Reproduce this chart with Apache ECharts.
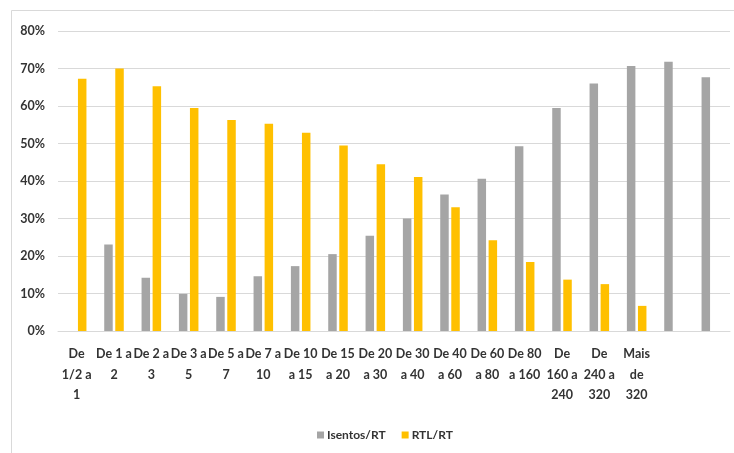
<!DOCTYPE html>
<html>
<head>
<meta charset="utf-8">
<script src="https://cdn.jsdelivr.net/npm/echarts@6/dist/echarts.min.js"></script>
<style>
  html, body { margin: 0; padding: 0; background: #ffffff; }
  #chart { width: 734px; height: 453px; }
</style>
</head>
<body>
<div id="chart"></div>
<script>
// Income brackets (in minimum wages); the last two columns have no label
const categories = [
  'De\n1/2 a\n1', 'De 1 a\n2', 'De 2 a\n3', 'De 3 a\n5', 'De 5 a\n7', 'De 7 a\n10',
  'De 10\na 15', 'De 15\na 20', 'De 20\na 30', 'De 30\na 40', 'De 40\na 60', 'De 60\na 80',
  'De 80\na 160', 'De\n160 a\n240', 'De\n240 a\n320', 'Mais\nde\n320', '', ''
];

// Share of exempt income over total income (%)
const isentos = [null, 23.1, 14.2, 9.9, 9.1, 14.6, 17.3, 20.5, 25.4, 30.0, 36.4, 40.6, 49.3, 59.5, 66.0, 70.7, 71.8, 67.7];

// Share of taxable income over total income (%)
const rtl = [67.3, 70.0, 65.3, 59.5, 56.3, 55.3, 52.9, 49.5, 44.5, 41.1, 33.0, 24.2, 18.4, 13.7, 12.5, 6.7, null, null];

const yTicks = { min: 0, max: 80, interval: 10 };

const textFont = 'Lato';
const textColor = '#333333';

const chart = echarts.init(document.getElementById('chart'), null, { renderer: 'canvas' });

chart.setOption({
  animation: false,
  backgroundColor: '#ffffff',
  graphic: [{
    type: 'rect',
    shape: { x: 11.5, y: 10.5, width: 740, height: 460 },
    style: { fill: 'none', stroke: '#d9d9d9', lineWidth: 1 },
    silent: true
  }],
  grid: { left: 58, right: 4, top: 31, bottom: 122 },
  legend: {
    left: 312,
    top: 424,
    itemWidth: 7,
    itemHeight: 7,
    itemGap: 16,
    icon: 'rect',
    textStyle: { fontFamily: textFont, fontWeight: 'bold', fontSize: 12, color: textColor, padding: [0, 0, 0, -2] },
    data: ['Isentos/RT', 'RTL/RT']
  },
  xAxis: {
    type: 'category',
    data: categories,
    axisLine: { show: true, lineStyle: { color: '#d9d9d9', width: 1 } },
    axisTick: { show: false },
    axisLabel: {
      interval: 0,
      margin: 13,
      fontFamily: textFont,
      fontWeight: 'bold',
      fontSize: 12.5,
      lineHeight: 20.5,
      color: textColor,
      align: 'center',
      verticalAlign: 'top'
    }
  },
  yAxis: {
    type: 'value',
    min: yTicks.min,
    max: yTicks.max,
    interval: yTicks.interval,
    axisLine: { show: false },
    axisTick: { show: false },
    splitLine: { lineStyle: { color: '#d9d9d9', width: 1 } },
    axisLabel: {
      margin: 13,
      formatter: '{value}%',
      fontFamily: textFont,
      fontWeight: 'bold',
      fontSize: 12.5,
      color: textColor
    }
  },
  series: [
    {
      name: 'Isentos/RT',
      type: 'bar',
      data: isentos,
      barWidth: 8.5,
      barGap: '30%',
      itemStyle: { color: '#a5a5a5' }
    },
    {
      name: 'RTL/RT',
      type: 'bar',
      data: rtl,
      barWidth: 8.5,
      barGap: '30%',
      itemStyle: { color: '#ffc000' }
    }
  ]
});
</script>
</body>
</html>
